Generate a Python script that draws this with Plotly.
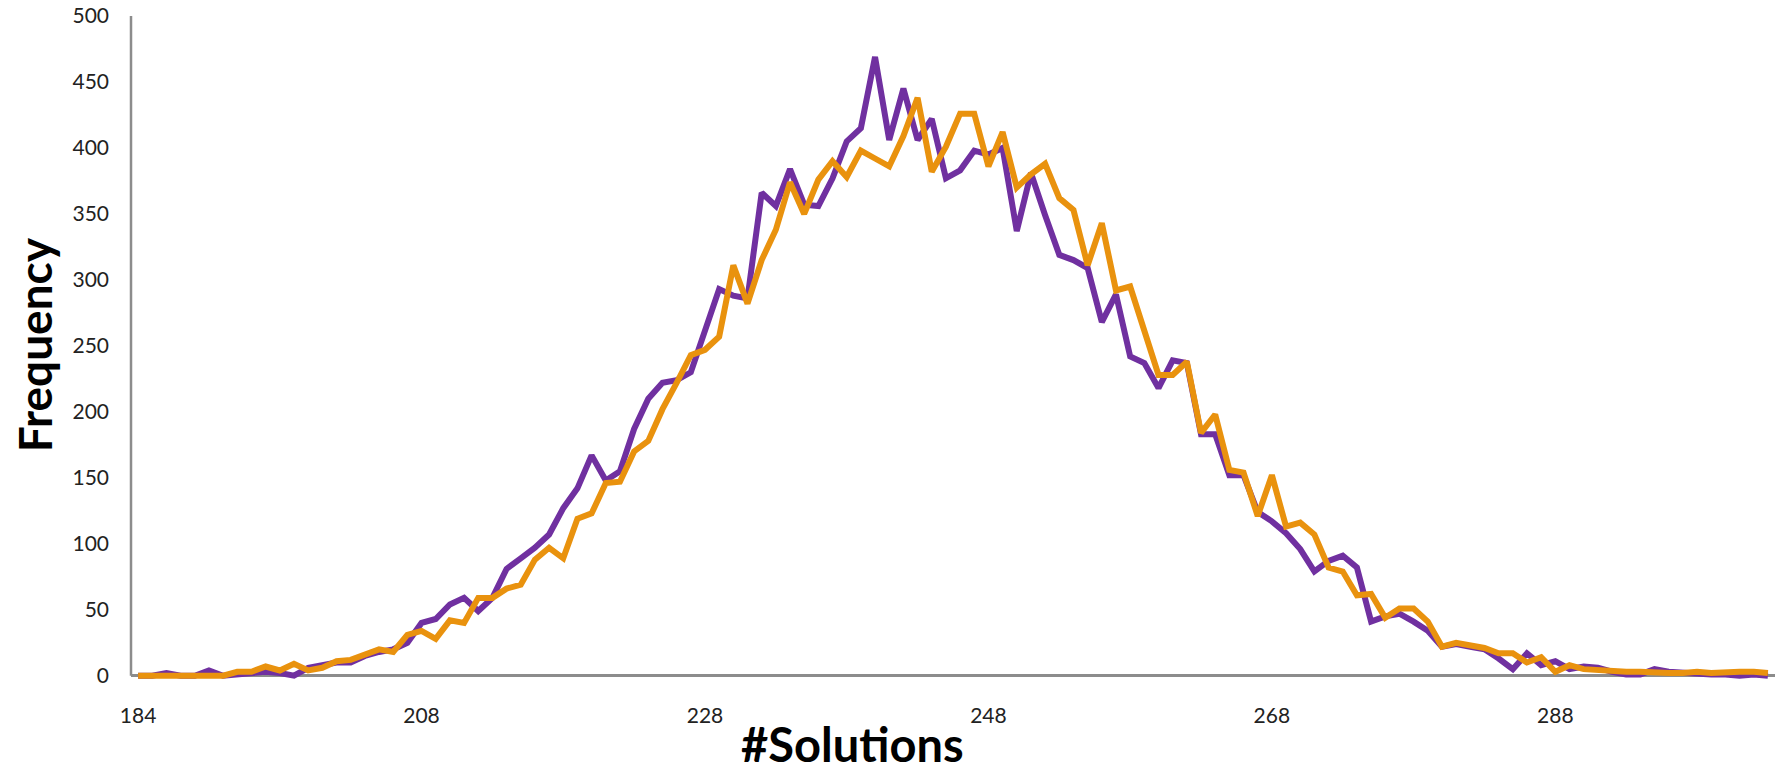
import plotly.graph_objects as go

# Category axis (observed #Solutions values; a few low values absent)
categories = [184, 186, 187, 188, 190, 191, 192, 193, 194, 196,
              197, 198, 199, 200, 201, 202, 203, 205, 206, 207,
              208, 209, 210, 211, 212, 213, 214, 215, 216, 217,
              218, 219, 220, 221, 222, 223, 224, 225, 226, 227,
              228, 229, 230, 231, 232, 233, 234, 235, 236, 237,
              238, 239, 240, 241, 242, 243, 244, 245, 246, 247,
              248, 249, 250, 251, 252, 253, 254, 255, 256, 257,
              258, 259, 260, 261, 262, 263, 264, 265, 266, 267,
              268, 269, 270, 271, 272, 273, 274, 275, 276, 277,
              278, 279, 280, 281, 282, 283, 284, 285, 286, 287,
              288, 289, 290, 291, 292, 293, 294, 295, 296, 297,
              298, 299, 300, 301, 302, 303]

series_purple = [0, 0, 2, 0, 0, 4, 0, 1, 1, 3,
                 2, 0, 6, 8, 10, 10, 15, 18, 20, 25,
                 40, 43, 54, 59, 49, 59, 81, 89, 97, 107,
                 127, 142, 167, 148, 155, 187, 210, 222, 224, 230,
                 261, 293, 288, 286, 366, 356, 384, 357, 356, 377,
                 405, 415, 469, 406, 445, 406, 422, 377, 383, 398,
                 395, 400, 337, 381, 349, 319, 315, 309, 268, 289,
                 242, 237, 218, 239, 237, 183, 183, 152, 152, 124,
                 117, 108, 96, 79, 87, 91, 82, 41, 45, 47,
                 41, 34, 22, 24, 22, 20, 13, 5, 17, 8,
                 11, 5, 7, 6, 3, 1, 1, 5, 3, 2,
                 1, 1, 1, 0, 1, 0]

series_orange = [0, 0, 0, 0, 0, 0, 0, 3, 3, 7,
                 4, 9, 4, 6, 11, 12, 16, 20, 18, 31,
                 34, 28, 42, 40, 59, 59, 66, 69, 88, 97,
                 89, 119, 123, 146, 147, 170, 178, 202, 222, 243,
                 247, 257, 311, 282, 315, 338, 374, 350, 376, 390,
                 378, 398, 392, 386, 409, 438, 382, 401, 426, 426,
                 386, 412, 370, 380, 388, 362, 353, 311, 343, 292,
                 295, 262, 228, 228, 238, 184, 198, 156, 154, 121,
                 152, 113, 116, 107, 82, 79, 61, 62, 44, 51,
                 51, 41, 22, 25, 23, 21, 17, 17, 10, 14,
                 3, 8, 5, 4, 4, 3, 3, 2, 2, 2,
                 3, 2, 3, 3, 3, 2]

x_tick_labels = ["184", "208", "228", "248", "268", "288"]
y_tick_values = [0, 50, 100, 150, 200, 250, 300, 350, 400, 450, 500]

x_cats = [str(c) for c in categories]

PURPLE = "#7030A0"
ORANGE = "#E9920E"
AXIS_GRAY = "#8C8C8C"
FONT = "Lato"

fig = go.Figure()
fig.add_trace(go.Scatter(x=x_cats, y=series_purple, mode="lines",
                         line=dict(color=PURPLE, width=6), name="Series 1"))
fig.add_trace(go.Scatter(x=x_cats, y=series_orange, mode="lines",
                         line=dict(color=ORANGE, width=6), name="Series 2"))

fig.update_layout(
    width=1775, height=774,
    margin=dict(l=131, r=0, t=16, b=93),
    paper_bgcolor="white", plot_bgcolor="white",
    showlegend=False,
    font=dict(family=FONT, size=18, color="#222222"),
    xaxis=dict(type="category", range=[-0.5, len(categories) - 0.5],
               tickmode="array", tickvals=x_tick_labels, ticktext=x_tick_labels,
               showgrid=False, showline=False, zeroline=False, ticks="",
               ticklabelstandoff=20,
               tickfont=dict(family=FONT, size=21, color="#222222")),
    yaxis=dict(range=[-4, 500], tickmode="array", tickvals=y_tick_values,
               showgrid=False, showline=False, ticks="",
               zeroline=True, zerolinecolor=AXIS_GRAY, zerolinewidth=2.5,
               ticklabelstandoff=21,
               tickfont=dict(family=FONT, size=21, color="#222222")),
    shapes=[dict(type="line", xref="paper", yref="y", x0=0, x1=0, y0=0, y1=500,
                 line=dict(color=AXIS_GRAY, width=2.5), layer="below")],
    annotations=[
        dict(text="<b>Frequency</b>", xref="paper", yref="paper",
             x=-0.059, y=0.505, xanchor="center", yanchor="middle",
             textangle=-90, showarrow=False,
             font=dict(family=FONT, size=46, color="black")),
        dict(text="<b>#Solutions</b>", xref="paper", yref="paper",
             x=0.439, y=-0.1395, xanchor="center", yanchor="bottom",
             showarrow=False,
             font=dict(family=FONT, size=47, color="black")),
    ],
)

fig.write_html("out.html")
